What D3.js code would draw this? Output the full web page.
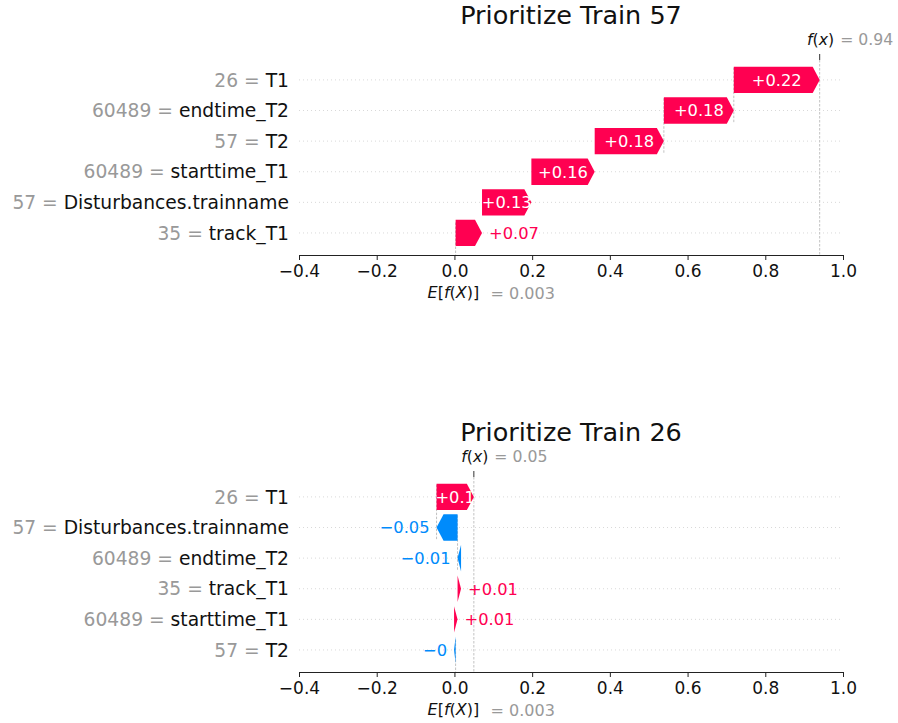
<!DOCTYPE html>
<html>
<head>
<meta charset="utf-8">
<script src="https://cdn.jsdelivr.net/npm/d3@7"></script>
<style>
  body { margin: 0; background: #fff; }
  svg { font-family: "DejaVu Sans", sans-serif; }
</style>
</head>
<body>
<div id="chart"></div>
<script>
'use strict'

// shared x ticks
const xTicks = [-0.4, -0.2, 0.0, 0.2, 0.4, 0.6, 0.8, 1.0]

// panel 1 - rows listed top to bottom
const title57 = "Prioritize Train 57"
const names57 = ["T1", "endtime_T2", "T2", "starttime_T1", "Disturbances.trainname", "track_T1"]
const featVals57 = ["26", "60489", "57", "60489", "57", "35"]
const shap57 = [0.221, 0.180, 0.178, 0.163, 0.127, 0.068]
const base57 = 0.003

// panel 2 - rows listed top to bottom
const title26 = "Prioritize Train 26"
const names26 = ["T1", "Disturbances.trainname", "endtime_T2", "track_T1", "starttime_T1", "T2"]
const featVals26 = ["26", "57", "60489", "35", "60489", "57"]
const shap26 = [0.096, -0.054, -0.009, 0.009, 0.009, -0.004]
const base26 = 0.003

////////////////////////////////////
//////////// svg setup /////////////
////////////////////////////////////

const svg = d3.select('#chart').append('svg')
    .attr('width', 898)
    .attr('height', 723)

const red = '#ff0051'
const blue = '#008bfb'
const grey = '#999999'

// shap style value formatting: strip trailing zeros, real minus sign
const fmt = (v, f) => {
    let s = f === 'signed' ? (v >= 0 ? '+' : '') + v.toFixed(2) : v.toFixed(3)
    s = s.replace(/\.?0+$/, '')
    return s.replace('-', '\u2212')
}

const waterfall = (g, title, names, featVals, shap, base) => {

    const n = names.length
    const fx = base + d3.sum(shap)

    const x = d3.scaleLinear()
        .domain([xTicks[0], xTicks[xTicks.length - 1]])
        .range([299, 843])

    // row 0 is the top row
    const y = d3.scaleLinear()
        .domain([-0.65, n - 1 + 0.72])
        .range([60, 255])

    const [yTop, yBot] = y.range()

    // cumulative positions, stacked from the bottom row up
    const rows = []
    let cum = base
    for (let i = n - 1; i >= 0; i--) {
        rows[i] = { i: i, name: names[i], feat: featVals[i], v: shap[i], start: cum, end: cum + shap[i] }
        cum += shap[i]
    }

    // title
    g.append('text')
        .attr('x', (x.range()[0] + x.range()[1]) / 2)
        .attr('y', 23.5)
        .attr('text-anchor', 'middle')
        .attr('font-size', 25.5)
        .attr('fill', '#111')
        .text(title)

    // horizontal dotted grid
    g.append('g').selectAll('line')
        .data(rows)
        .join('line')
        .attr('x1', x.range()[0])
        .attr('x2', x.range()[1])
        .attr('y1', d => y(d.i))
        .attr('y2', d => y(d.i))
        .attr('stroke', '#d9d9d9')
        .attr('stroke-dasharray', '1,3')

    // dashed verticals: f(x), base value, connectors of the two top rows
    const vlines = [
        { x: fx, y1: yTop, y2: yBot },
        { x: base, y1: yBot - (yBot - yTop) / n, y2: yBot }
    ]
    rows.slice(0, 2).forEach(d => vlines.push({ x: d.start, y1: y(d.i - 0.4), y2: y(d.i + 1.4) }))

    g.append('g').selectAll('line')
        .data(vlines)
        .join('line')
        .attr('x1', d => x(d.x))
        .attr('x2', d => x(d.x))
        .attr('y1', d => d.y1)
        .attr('y2', d => d.y2)
        .attr('stroke', '#c2c2c2')
        .attr('stroke-dasharray', '2.5,1.5')

    // arrows
    const half = 0.43
    const headLen = 7
    const arrow = d => {
        const x0 = x(d.start), x1 = x(d.end)
        const dir = x1 >= x0 ? 1 : -1
        const hl = Math.min(Math.abs(x1 - x0), headLen)
        const xb = x1 - dir * hl
        const yt = y(d.i - half), yb = y(d.i + half), yc = y(d.i)
        return `M${x0},${yt}L${xb},${yt}L${x1},${yc}L${xb},${yb}L${x0},${yb}Z`
    }

    g.append('g').selectAll('path')
        .data(rows)
        .join('path')
        .attr('d', arrow)
        .attr('fill', d => d.v >= 0 ? red : blue)

    // value labels: inside in white if they fit, else beside the arrow
    g.append('g').selectAll('text')
        .data(rows)
        .join('text')
        .attr('y', d => y(d.i))
        .attr('dy', '0.36em')
        .attr('font-size', 16.3)
        .text(d => fmt(d.v, 'signed'))
        .each(function (d) {
            const t = d3.select(this)
            const tw = this.getComputedTextLength()
            const bw = Math.abs(x(d.end) - x(d.start))
            if (tw <= bw + 4) {
                t.attr('x', (x(d.start) + x(d.end)) / 2)
                    .attr('text-anchor', 'middle')
                    .attr('fill', '#fff')
            } else if (d.v >= 0) {
                t.attr('x', x(d.end) + 7)
                    .attr('text-anchor', 'start')
                    .attr('fill', red)
            } else {
                t.attr('x', x(d.end) - 7)
                    .attr('text-anchor', 'end')
                    .attr('fill', blue)
            }
        })

    // feature labels
    const ylab = g.append('g').selectAll('text')
        .data(rows)
        .join('text')
        .attr('x', 289)
        .attr('y', d => y(d.i))
        .attr('dy', '0.36em')
        .attr('text-anchor', 'end')
        .attr('font-size', 18.7)

    ylab.append('tspan').attr('fill', grey).text(d => d.feat + ' = ')
    ylab.append('tspan').attr('fill', '#111').text(d => d.name)

    ////////////////////////////////////
    ///////////////axis/////////////////
    ////////////////////////////////////

    const xAxis = d3.axisBottom(x)
        .tickValues(xTicks)
        .tickFormat(d3.format('.1f'))
        .tickSize(5)
        .tickSizeOuter(0)

    const ax = g.append('g')
        .attr('transform', `translate(0,${yBot})`)
        .call(xAxis)

    ax.select('.domain').attr('stroke', '#222')
    ax.selectAll('.tick line').attr('stroke', '#222')
    ax.selectAll('.tick text')
        .attr('y', 16)
        .attr('dy', '0.36em')
        .attr('fill', '#111')
        .attr('font-size', 17)
        .attr('font-family', '"DejaVu Sans", sans-serif')

    // f(x) tick and label on top
    g.append('line')
        .attr('x1', x(fx)).attr('x2', x(fx))
        .attr('y1', yTop - 6).attr('y2', yTop)
        .attr('stroke', '#333')

    const fxLab = g.append('text')
        .attr('x', x(fx) - 12.6)
        .attr('y', 39)
        .attr('dy', '0.36em')
        .attr('font-size', 15.7)
        .attr('fill', '#111')
    fxLab.append('tspan').attr('font-style', 'italic').text('f')
    fxLab.append('tspan').text('(')
    fxLab.append('tspan').attr('font-style', 'italic').text('x')
    fxLab.append('tspan').text(')')

    g.append('text')
        .attr('x', x(fx) + 20.5)
        .attr('y', 39)
        .attr('dy', '0.36em')
        .attr('font-size', 15.7)
        .attr('fill', grey)
        .text('= ' + fmt(fx))

    // E[f(X)] label under the axis
    const eLab = g.append('text')
        .attr('x', x(base) - 28)
        .attr('y', 292.5)
        .attr('dy', '0.36em')
        .attr('font-size', 16)
        .attr('fill', '#111')
    eLab.append('tspan').attr('font-style', 'italic').text('E')
    eLab.append('tspan').text('[')
    eLab.append('tspan').attr('font-style', 'italic').text('f')
    eLab.append('tspan').text('(')
    eLab.append('tspan').attr('font-style', 'italic').text('X')
    eLab.append('tspan').text(')]')

    g.append('text')
        .attr('x', x(base) + 35)
        .attr('y', 293.5)
        .attr('dy', '0.36em')
        .attr('font-size', 16)
        .attr('fill', grey)
        .text('= ' + fmt(base))
}

waterfall(svg.append('g'), title57, names57, featVals57, shap57, base57)
waterfall(svg.append('g').attr('transform', 'translate(0,417)'), title26, names26, featVals26, shap26, base26)
</script>
</body>
</html>
